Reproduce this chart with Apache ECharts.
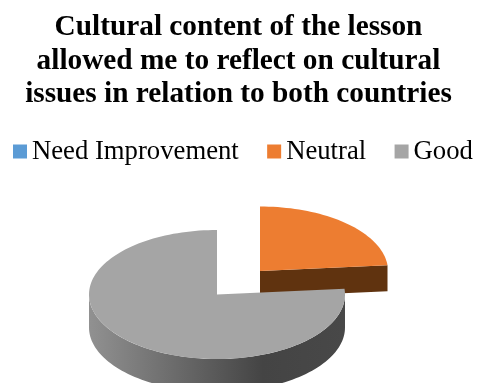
<!DOCTYPE html>
<html>
<head>
<meta charset="utf-8">
<style>html,body{margin:0;padding:0;background:#fff}#chart{width:477px;height:383px}</style>
<script src="https://cdn.jsdelivr.net/npm/echarts@6/dist/echarts.min.js"></script>
</head>
<body>
<div id="chart"></div>
<script>
// Survey responses, in percent of answers
const categories = ['Need Improvement', 'Neutral', 'Good'];
const shares = [0, 23.6, 76.4];
const faceColors = ['#5b9bd5', '#ed7d31', '#a5a5a5'];
const cutColors = ['#2e5a84', '#60330f', '#5a5a5a'];
const chartTitle = 'Cultural content of the lesson\nallowed me to reflect on cultural\nissues in relation to both countries';

const total = shares.reduce((a, b) => a + b, 0);

// Projected disc: ellipse radii and wall height of the tilted pie
const RX = 128, RY = 64.5, DEPTH = 33;
// Resting place of the disc and how far the Neutral wedge is pulled out
const centers = [[217, 294.5], [260, 271], [217, 294.5]];
const wallDepth = [DEPTH, 26, DEPTH];

function rim(cx, cy, from, to) {
  // Clockwise from twelve o'clock, in degrees
  const pts = [];
  const steps = Math.max(2, Math.ceil(Math.abs(to - from) / 2));
  for (let i = 0; i <= steps; i++) {
    const a = (from + (to - from) * i / steps) * Math.PI / 180;
    pts.push([cx + RX * Math.sin(a), cy - RY * Math.cos(a)]);
  }
  return pts;
}

function renderWedge(index) {
  return function () {
    const before = shares.slice(0, index).reduce((a, b) => a + b, 0);
    const from = before / total * 360;
    const to = (before + shares[index]) / total * 360;
    if (to <= from) return { type: 'group', children: [] };
    const [cx, cy] = centers[index];
    const d = wallDepth[index];
    const children = [];

    // The closing cut faces the viewer while the wedge ends on the right half
    if (to < 180) {
      const endEdge = rim(cx, cy, to, to)[0];
      children.push({
        type: 'polygon',
        shape: { points: [[cx, cy], endEdge, [endEdge[0], endEdge[1] + d], [cx, cy + d]] },
        style: { fill: cutColors[index] }
      });
    }

    // Outer wall, visible only across the lower half of the rim
    const wallFrom = Math.max(from, 90);
    const wallTo = Math.min(to, 270);
    if (wallTo > wallFrom) {
      const top = rim(cx, cy, wallFrom, wallTo);
      const bottom = top.map(p => [p[0], p[1] + d]).reverse();
      children.push({
        type: 'polygon',
        shape: { points: top.concat(bottom) },
        style: {
          fill: new echarts.graphic.LinearGradient(1, 0, 0, 0, [
            { offset: 0, color: '#484848' },
            { offset: 0.32, color: '#444444' },
            { offset: 0.62, color: '#666666' },
            { offset: 1, color: '#919191' }
          ])
        }
      });
    }

    // Top face
    const face = rim(cx, cy, from, to);
    face.unshift([cx, cy]);
    children.push({ type: 'polygon', shape: { points: face }, style: { fill: faceColors[index] } });
    return { type: 'group', children };
  };
}

const chart = echarts.init(document.getElementById('chart'), null, { renderer: 'canvas' });
chart.setOption({
  animation: false,
  backgroundColor: '#ffffff',
  title: {
    text: chartTitle,
    left: 'center',
    top: 6,
    textStyle: {
      fontFamily: 'Liberation Serif',
      fontWeight: 'bold',
      fontSize: 29.3,
      lineHeight: 33.5,
      color: '#000000'
    }
  },
  legend: {
    data: categories,
    left: 13,
    top: 138,
    width: 464,
    padding: 0,
    itemWidth: 14,
    itemHeight: 14,
    itemGap: 28.4,
    icon: 'rect',
    textStyle: { fontFamily: 'Liberation Serif', fontSize: 26.7, color: '#000000', padding: 0 },
    selectedMode: false
  },
  series: categories.map((name, i) => ({
    name,
    type: 'custom',
    coordinateSystem: 'none',
    silent: true,
    z: i,
    itemStyle: { color: faceColors[i] },
    data: [shares[i]],
    renderItem: renderWedge(i)
  }))
});
</script>
</body>
</html>
